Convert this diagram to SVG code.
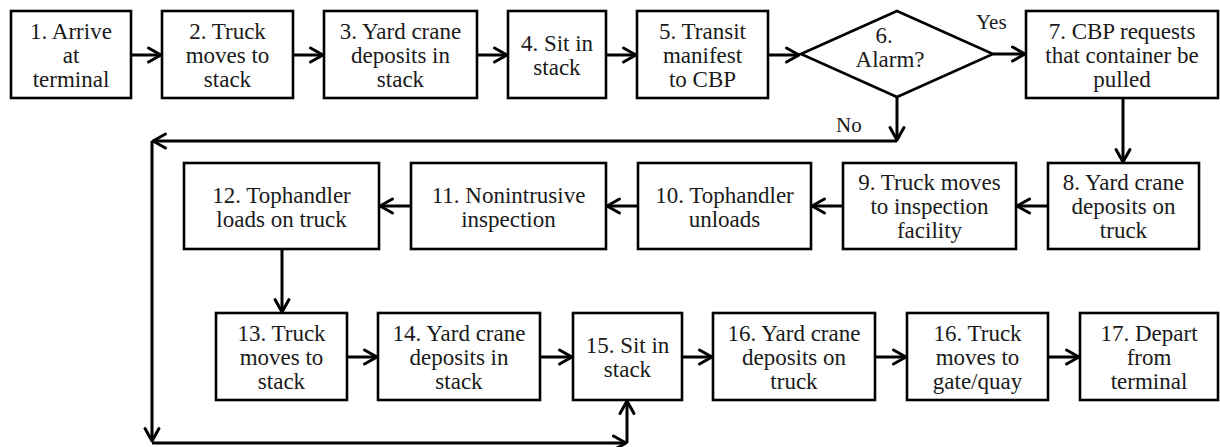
<svg xmlns="http://www.w3.org/2000/svg" width="1220" height="447" viewBox="0 0 1220 447">
  <style>
    .box { fill: #ffffff; stroke: #000000; stroke-width: 2.6; }
    .t { font-family: "Liberation Serif", "Times New Roman", serif; font-size: 23px; fill: #1a1a1a; text-anchor: middle; }
    .lbl { font-family: "Liberation Serif", "Times New Roman", serif; font-size: 21px; fill: #1a1a1a; }
    .c { fill: none; stroke: #000000; stroke-width: 3; marker-end: url(#arr); }
    .p { fill: none; stroke: #000000; stroke-width: 3; }
  </style>
  <defs>
    <marker id="arr" viewBox="0 0 16 16" refX="14" refY="8" markerWidth="16" markerHeight="16" markerUnits="userSpaceOnUse" orient="auto" overflow="visible">
      <path d="M1.5,1 L14,8 L1.5,15" fill="none" stroke="#000000" stroke-width="3" stroke-linejoin="round" stroke-linecap="round"/>
    </marker>
  </defs>
  <rect width="1220" height="447" fill="#ffffff"/>

  <g id="n1"><rect class="box" x="11" y="11" width="120" height="87"/>
    <text class="t" x="71" y="39">1. Arrive</text><text class="t" x="71" y="63">at</text><text class="t" x="71" y="87">terminal</text></g>
  <g id="n2"><rect class="box" x="162" y="11" width="131" height="87"/>
    <text class="t" x="227.5" y="39">2. Truck</text><text class="t" x="227.5" y="63">moves to</text><text class="t" x="227.5" y="87">stack</text></g>
  <g id="n3"><rect class="box" x="324" y="11" width="153" height="87"/>
    <text class="t" x="400.5" y="39">3. Yard crane</text><text class="t" x="400.5" y="63">deposits in</text><text class="t" x="400.5" y="87">stack</text></g>
  <g id="n4"><rect class="box" x="508" y="11" width="98" height="87"/>
    <text class="t" x="557" y="51">4. Sit in</text><text class="t" x="557" y="75">stack</text></g>
  <g id="n5"><rect class="box" x="637" y="11" width="131" height="87"/>
    <text class="t" x="702.5" y="39">5. Transit</text><text class="t" x="702.5" y="63">manifest</text><text class="t" x="702.5" y="87">to CBP</text></g>
  <g id="n6"><polygon class="box" points="801,54 897,11 993,54 897,97"/>
    <text class="t" x="884" y="43">6.</text><text class="t" x="890" y="67">Alarm?</text></g>
  <g id="n7"><rect class="box" x="1026" y="11" width="192" height="87"/>
    <text class="t" x="1122" y="39">7. CBP requests</text><text class="t" x="1122" y="63">that container be</text><text class="t" x="1122" y="87">pulled</text></g>

  <g id="n8"><rect class="box" x="1048" y="163" width="151" height="86"/>
    <text class="t" x="1123.5" y="190">8. Yard crane</text><text class="t" x="1123.5" y="214">deposits on</text><text class="t" x="1123.5" y="238">truck</text></g>
  <g id="n9"><rect class="box" x="843" y="163" width="173" height="86"/>
    <text class="t" x="929.5" y="190">9. Truck moves</text><text class="t" x="929.5" y="214">to inspection</text><text class="t" x="929.5" y="238">facility</text></g>
  <g id="n10"><rect class="box" x="638" y="163" width="173" height="86"/>
    <text class="t" x="724.5" y="203">10. Tophandler</text><text class="t" x="724.5" y="227">unloads</text></g>
  <g id="n11"><rect class="box" x="411" y="163" width="195" height="86"/>
    <text class="t" x="508.5" y="203">11. Nonintrusive</text><text class="t" x="508.5" y="227">inspection</text></g>
  <g id="n12"><rect class="box" x="184" y="163" width="195" height="86"/>
    <text class="t" x="281.5" y="203">12. Tophandler</text><text class="t" x="281.5" y="227">loads on truck</text></g>

  <g id="n13"><rect class="box" x="216" y="313" width="131" height="87"/>
    <text class="t" x="281.5" y="341">13. Truck</text><text class="t" x="281.5" y="365">moves to</text><text class="t" x="281.5" y="389">stack</text></g>
  <g id="n14"><rect class="box" x="378" y="313" width="162" height="87"/>
    <text class="t" x="459" y="341">14. Yard crane</text><text class="t" x="459" y="365">deposits in</text><text class="t" x="459" y="389">stack</text></g>
  <g id="n15"><rect class="box" x="573" y="313" width="109" height="87"/>
    <text class="t" x="627.5" y="353">15. Sit in</text><text class="t" x="627.5" y="377">stack</text></g>
  <g id="n16"><rect class="box" x="713" y="313" width="162" height="87"/>
    <text class="t" x="794" y="341">16. Yard crane</text><text class="t" x="794" y="365">deposits on</text><text class="t" x="794" y="389">truck</text></g>
  <g id="n16b"><rect class="box" x="907" y="313" width="141" height="87"/>
    <text class="t" x="977.5" y="341">16. Truck</text><text class="t" x="977.5" y="365">moves to</text><text class="t" x="977.5" y="389">gate/quay</text></g>
  <g id="n17"><rect class="box" x="1080" y="313" width="138" height="87"/>
    <text class="t" x="1149" y="341">17. Depart</text><text class="t" x="1149" y="365">from</text><text class="t" x="1149" y="389">terminal</text></g>

  <g id="connectors">
    <line class="c" x1="131" y1="55" x2="161" y2="55"/>
    <line class="c" x1="293" y1="55" x2="323" y2="55"/>
    <line class="c" x1="477" y1="55" x2="507" y2="55"/>
    <line class="c" x1="606" y1="55" x2="636" y2="55"/>
    <line class="c" x1="768" y1="55" x2="799" y2="55"/>
    <line class="c" x1="993" y1="54" x2="1025" y2="54"/>
    <line class="c" x1="1123" y1="98" x2="1123" y2="162"/>
    <line class="c" x1="1048" y1="206" x2="1017" y2="206"/>
    <line class="c" x1="843" y1="206" x2="812" y2="206"/>
    <line class="c" x1="638" y1="206" x2="607" y2="206"/>
    <line class="c" x1="411" y1="206" x2="380" y2="206"/>
    <line class="c" x1="282" y1="249" x2="282" y2="312"/>
    <line class="c" x1="347" y1="357" x2="377" y2="357"/>
    <line class="c" x1="540" y1="357" x2="572" y2="357"/>
    <line class="c" x1="682" y1="357" x2="712" y2="357"/>
    <line class="c" x1="875" y1="357" x2="906" y2="357"/>
    <line class="c" x1="1048" y1="357" x2="1079" y2="357"/>
    <line class="c" x1="897" y1="97" x2="897" y2="140"/>
    <line class="c" x1="897" y1="141" x2="153" y2="141"/>
    <line class="c" x1="152" y1="141" x2="152" y2="441"/>
    <line class="c" x1="152" y1="443" x2="626" y2="443"/>
    <line class="c" x1="627" y1="443" x2="627" y2="401"/>
    <text class="lbl" x="976" y="29">Yes</text>
    <text class="lbl" x="836" y="132">No</text>
  </g>
</svg>
